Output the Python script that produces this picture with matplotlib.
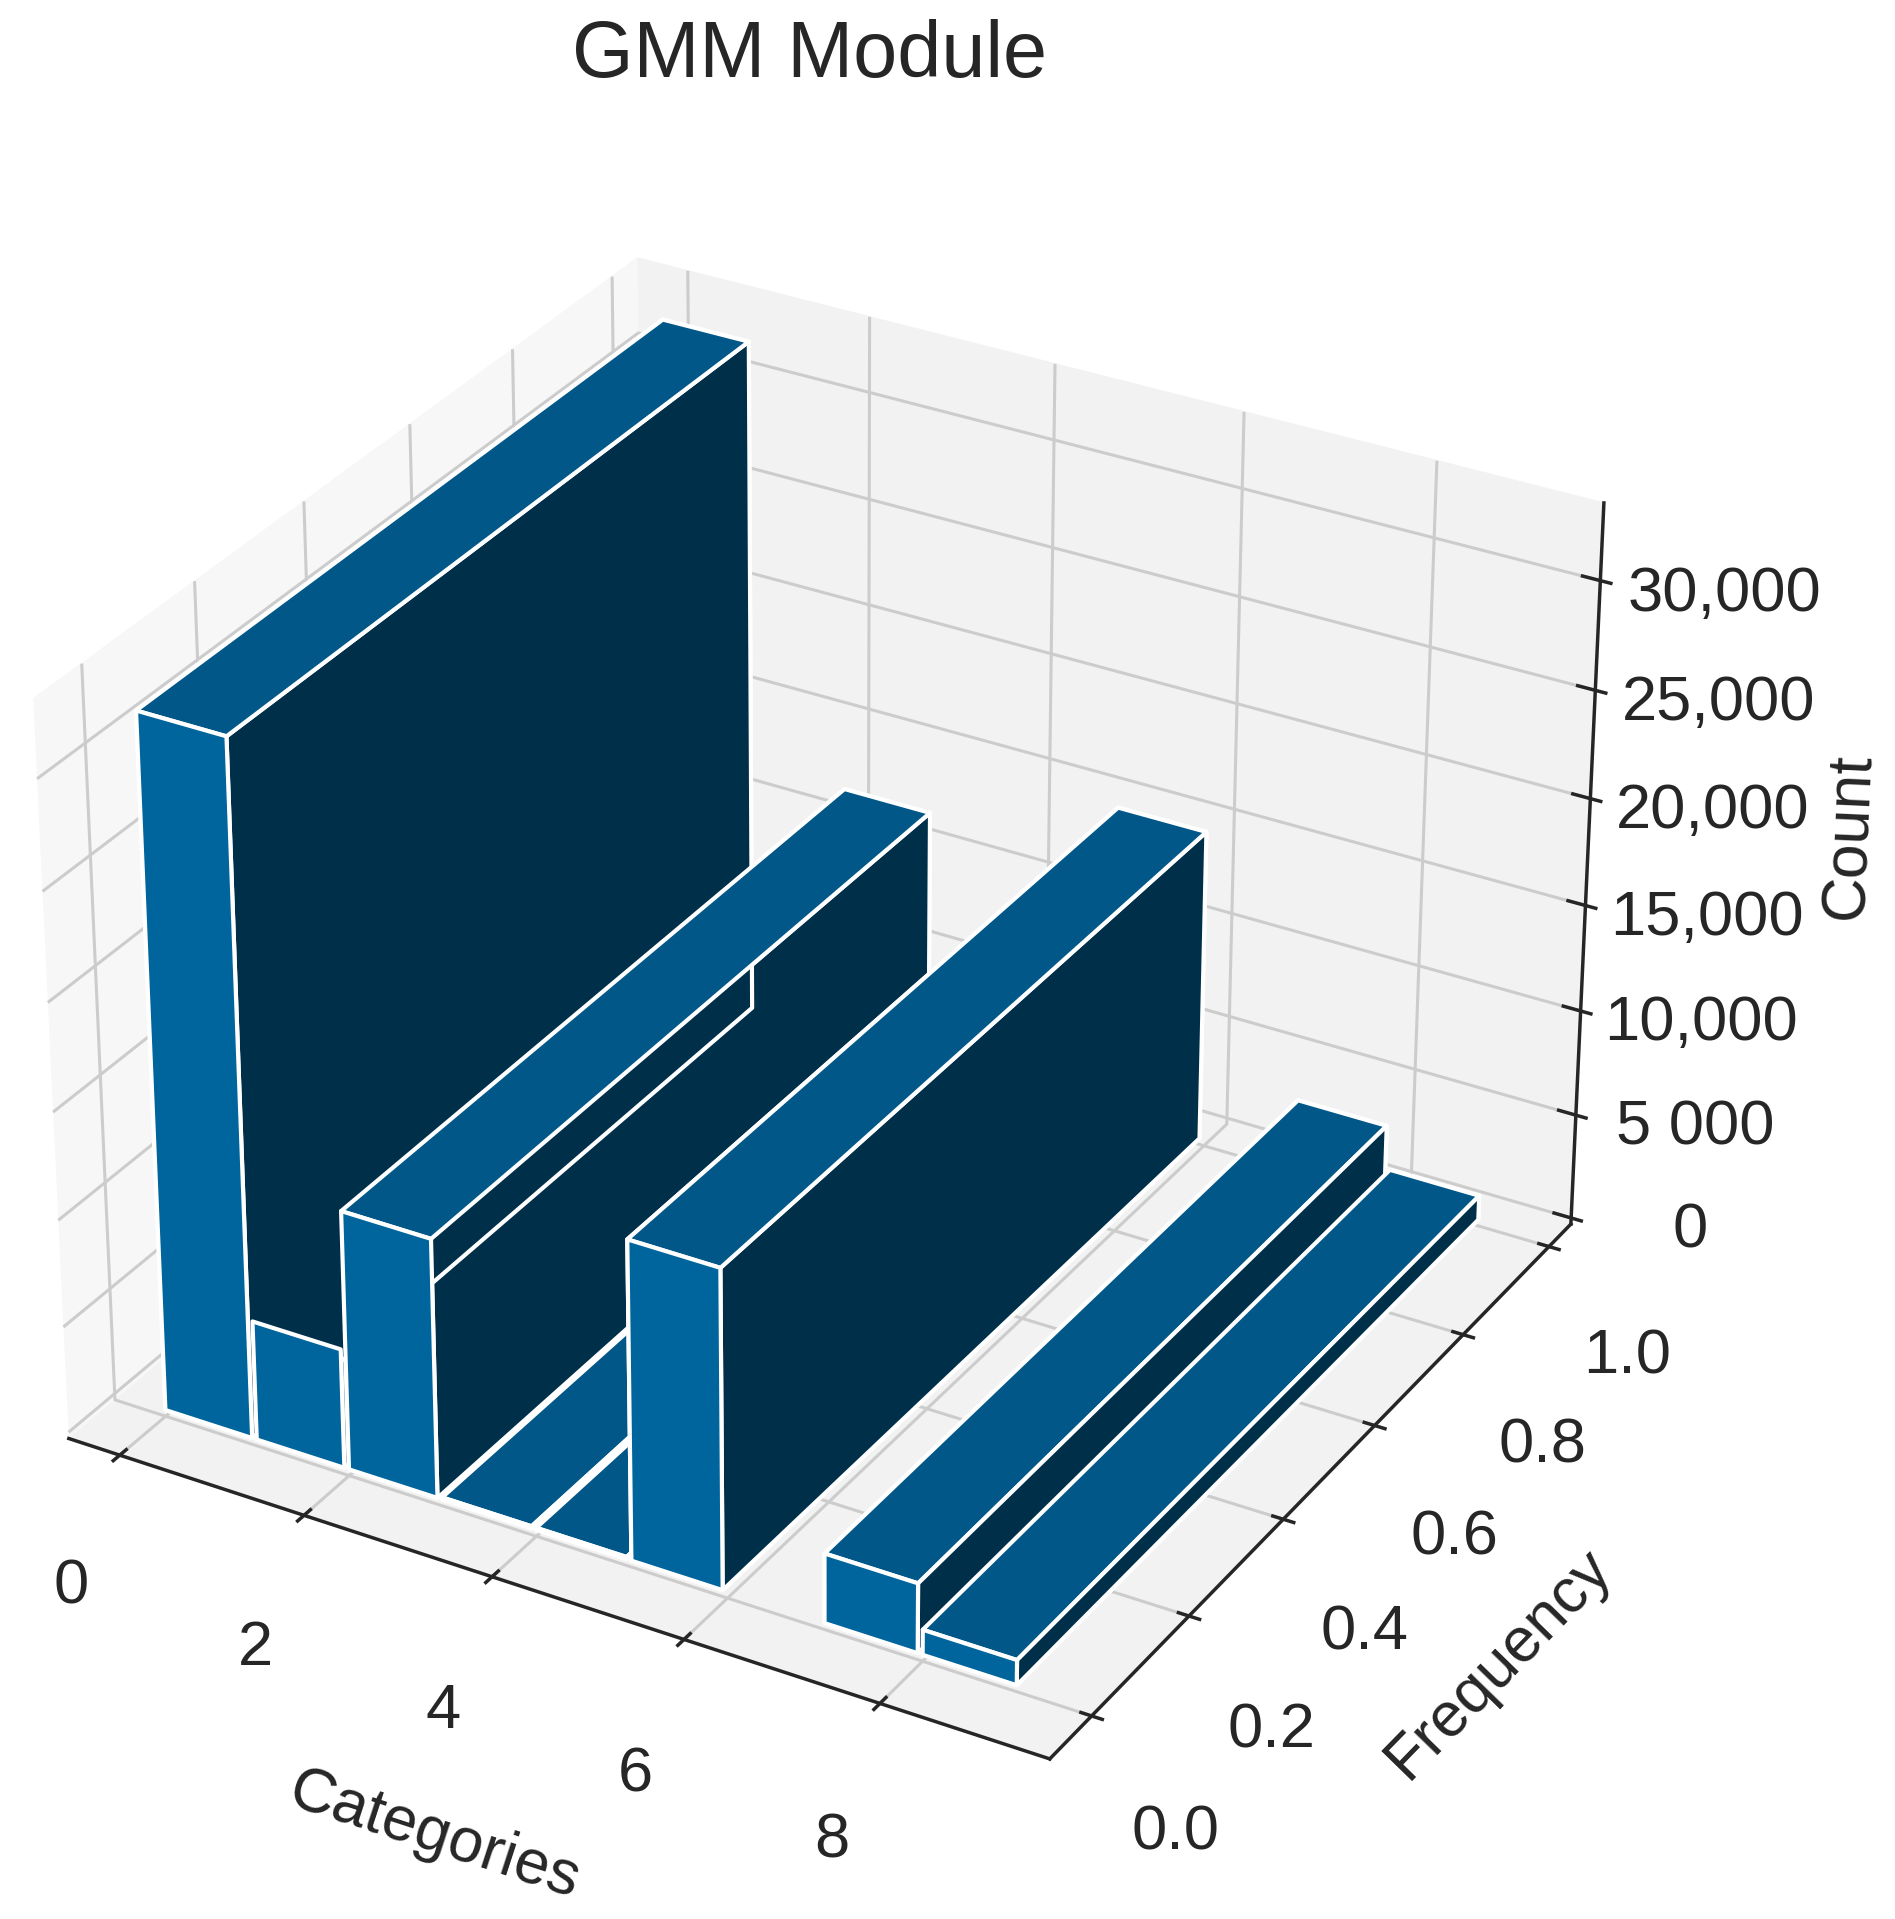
import numpy as np
import matplotlib
matplotlib.use('Agg')
import matplotlib.pyplot as plt
from matplotlib.ticker import FuncFormatter

#values (category 6 has no bar)
categories = [0, 1, 2, 3, 4, 5, 7, 8]
counts = [32100, 5600, 12100, 100, 100, 14850, 3250, 1170]
z_ticks = [0, 5000, 10000, 15000, 20000, 25000, 30000]
x_ticks = [0, 2, 4, 6, 8]
y_ticks = [0.0, 0.2, 0.4, 0.6, 0.8, 1.0]

plt.rcParams['font.family'] = ['Liberation Sans', 'DejaVu Sans']
plt.rcParams['text.color'] = '#262626'
plt.rcParams['axes.labelcolor'] = '#262626'
plt.rcParams['xtick.color'] = '#262626'
plt.rcParams['ytick.color'] = '#262626'

fig = plt.figure(figsize=(18.95, 19.19), dpi=100)
ax = fig.add_axes([-0.064, 0.026, 0.983, 0.91], projection='3d')

ax.bar3d(categories, np.zeros(len(categories)), np.zeros(len(categories)),
         0.95, 1.0, counts, color='#0072b2', edgecolor='white', linewidth=3, shade=True)

ax.set_xticks(x_ticks)
ax.set_yticks(y_ticks)
ax.set_zticks(z_ticks)
ax.zaxis.set_major_formatter(FuncFormatter(lambda v, p: '5 000' if v == 5000 else f'{int(v):,}'))
ax.tick_params(labelsize=45.5, pad=46, color='#262626')
ax.set_xlabel('Categories', fontsize=45, labelpad=102)
ax.set_ylabel('Frequency', fontsize=45, labelpad=97)
ax.set_zlabel('Count', fontsize=45, labelpad=96)
ax.set_xlim(-0.56, 9.70)
ax.set_ylim(-0.084, 1.052)
ax.set_zlim(-300, 33500)
fig.suptitle('GMM Module', fontsize=57, x=0.427, y=0.99)

for a in (ax.xaxis, ax.yaxis, ax.zaxis):
    a._axinfo['grid']['color'] = '#cccccc'
    a._axinfo['grid']['linewidth'] = 2.2
    a._axinfo['tick']['inward_factor'] = 0.13
    a._axinfo['tick']['outward_factor'] = 0.13
    a._axinfo['tick']['linewidth'] = {True: 2.5, False: 1.5}
    a.set_pane_color((0.95, 0.95, 0.95, 1.0))
    a.pane.set_edgecolor('#f2f2f2')
    a.line.set_color('#262626')
    a.line.set_linewidth(2.5)
ax.zaxis._axinfo['tick']['outward_factor'] = 0.22
ax.xaxis.set_pane_color((0.97, 0.97, 0.97, 1.0))

plt.savefig('out.png')
